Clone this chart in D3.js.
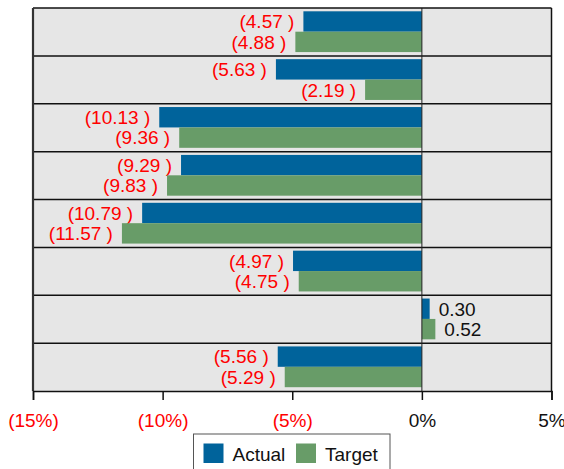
<!DOCTYPE html>
<html>
<head>
<meta charset="utf-8">
<script src="https://cdn.jsdelivr.net/npm/d3@7"></script>
<style>
  html, body { margin: 0; padding: 0; background: #fff; }
  svg { display: block; font-family: "Liberation Sans", Arial, sans-serif; }
  text { white-space: pre; }
</style>
</head>
<body>
<svg id="chart" width="564" height="469"></svg>
<script>
// Variance by row, in percent
const categories = ["R1", "R2", "R3", "R4", "R5", "R6", "R7", "R8"];
const series = ["Actual", "Target"];
const actual = [-4.57, -5.63, -10.13, -9.29, -10.79, -4.97, 0.30, -5.56];
const target = [-4.88, -2.19, -9.36, -9.83, -11.57, -4.75, 0.52, -5.29];
const tickValues = [-15, -10, -5, 0, 5];

const colors = { Actual: "#00639b", Target: "#689c68" };
const negColor = "#ff0000";

const svg = d3.select("#chart");
const plotLeft = 33, plotRight = 551.5, plotTop = 8, plotBottom = 391;

const x = d3.scaleLinear().domain([-15, 5]).range([plotLeft, plotRight]);
const y = d3.scaleBand().domain(categories).range([plotTop, plotBottom]).padding(0);
const bw = y.bandwidth();
const ySub = d3.scaleBand().domain(series).range([3.3, bw - 3.8]).padding(0);

const rows = categories.map((c, i) => ({ cat: c, Actual: actual[i], Target: target[i] }));

// band backgrounds
svg.append("g").selectAll("rect").data(categories).join("rect")
  .attr("x", plotLeft).attr("y", d => y(d))
  .attr("width", plotRight - plotLeft).attr("height", bw)
  .attr("fill", "#e6e6e6");

// bars and value labels
const fmtLabel = v => v < 0 ? "(" + Math.abs(v).toFixed(2) + " )" : v.toFixed(2);
const g = svg.append("g");
rows.forEach(r => {
  series.forEach(s => {
    const v = r[s];
    const y0 = y(r.cat) + ySub(s);
    g.append("rect")
      .attr("x", Math.min(x(0), x(v)))
      .attr("y", y0)
      .attr("width", Math.abs(x(v) - x(0)))
      .attr("height", ySub.bandwidth())
      .attr("fill", colors[s]);
    g.append("text")
      .attr("x", v < 0 ? x(v) - 9 : x(v) + 9)
      .attr("y", y0 + ySub.bandwidth() / 2)
      .attr("dy", "0.36em")
      .attr("text-anchor", v < 0 ? "end" : "start")
      .attr("font-size", 19)
      .attr("fill", v < 0 ? negColor : "#111")
      .text(fmtLabel(v));
  });
});

// band separators
svg.append("g").selectAll("line").data(categories.slice(1)).join("line")
  .attr("x1", plotLeft).attr("x2", plotRight)
  .attr("y1", d => y(d)).attr("y2", d => y(d))
  .attr("stroke", "#111").attr("stroke-width", 1.5);

// zero line
svg.append("line")
  .attr("x1", x(0)).attr("x2", x(0)).attr("y1", plotTop).attr("y2", plotBottom)
  .attr("stroke", "#222").attr("stroke-width", 1);

// frame
svg.append("line").attr("x1", plotLeft).attr("x2", plotRight).attr("y1", plotTop).attr("y2", plotTop)
  .attr("stroke", "#111").attr("stroke-width", 1.5);
svg.append("line").attr("x1", plotRight).attr("x2", plotRight).attr("y1", plotTop).attr("y2", plotBottom)
  .attr("stroke", "#111").attr("stroke-width", 1.5);
svg.append("line").attr("x1", plotLeft).attr("x2", plotLeft).attr("y1", plotTop).attr("y2", plotBottom)
  .attr("stroke", "#333").attr("stroke-width", 2.2);

// x axis
const axis = d3.axisBottom(x).tickValues(tickValues).tickSize(9).tickPadding(14)
  .tickFormat(d => d < 0 ? "(" + Math.abs(d) + "%)" : d + "%");
const ax = svg.append("g").attr("transform", `translate(0,${plotBottom})`).call(axis);
ax.select(".domain").attr("stroke", "#111").attr("stroke-width", 1.5);
ax.selectAll(".tick line").attr("stroke", "#111").attr("stroke-width", 1.5);
ax.selectAll(".tick text")
  .attr("font-size", 19)
  .attr("font-family", "Liberation Sans, Arial, sans-serif")
  .attr("fill", d => d < 0 ? negColor : "#111");

// legend
const lg = svg.append("g");
lg.append("rect").attr("x", 193.5).attr("y", 434).attr("width", 196.5).attr("height", 40)
  .attr("fill", "#fff").attr("stroke", "#555").attr("stroke-width", 1);
const items = [{ s: "Actual", x: 203.5 }, { s: "Target", x: 296 }];
items.forEach(it => {
  lg.append("rect").attr("x", it.x).attr("y", 443.5).attr("width", 20).attr("height", 19.5)
    .attr("fill", colors[it.s]);
  lg.append("text").attr("x", it.x + 29).attr("y", 460.5)
    .attr("font-size", 19).attr("fill", "#111").text(it.s);
});
</script>
</body>
</html>
